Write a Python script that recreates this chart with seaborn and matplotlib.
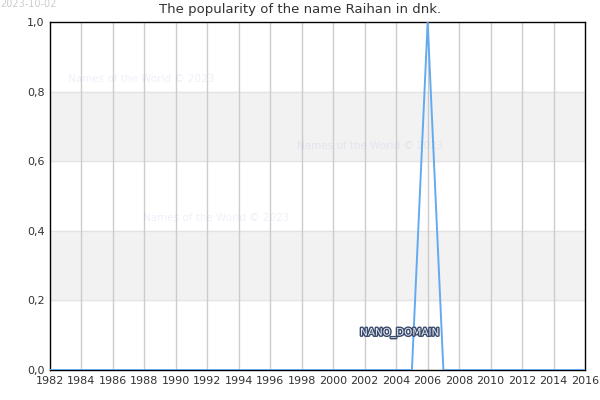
import matplotlib
matplotlib.use('Agg')  # Headless
import matplotlib.pyplot as plt
import matplotlib.patheffects as pe
from matplotlib.ticker import FuncFormatter
import seaborn as sns

sns.set_theme(style="white")
plt.rcParams['font.family'] = ['DejaVu Sans']

years = list(range(1982, 2017))
popularity = [1.0 if y == 2006 else 0.0 for y in years]
x_ticks = list(range(1982, 2017, 2))
y_ticks = [0.0, 0.2, 0.4, 0.6, 0.8, 1.0]
bands = [(0.2, 0.4), (0.6, 0.8)]

fig = plt.figure(figsize=(6, 4), dpi=100)
ax = fig.add_axes([50 / 600, 30 / 400, 535 / 600, 348 / 400])

for lo, hi in bands:
    ax.axhspan(lo, hi, color='#f2f2f2', zorder=0)
for yv in y_ticks[1:-1]:
    ax.axhline(yv, color='#e4e4e4', lw=1, zorder=0.5)
for xv in x_ticks[1:-1]:
    ax.axvline(xv, color='#cccccc', lw=1, zorder=0.5)

sns.lineplot(x=years, y=popularity, color='#64aaf0', lw=1.4, ax=ax, zorder=3)

ax.set_xlim(1982, 2016)
ax.set_ylim(0, 1.0)
ax.set_xticks(x_ticks)
ax.set_yticks(y_ticks)
ax.yaxis.set_major_formatter(FuncFormatter(lambda v, _: f'{v:.1f}'.replace('.', ',')))
ax.tick_params(labelsize=8, colors='#333333', length=0, pad=4)
for s in ax.spines.values():
    s.set_color('black')
    s.set_linewidth(1)

fig.text(0.5, 1 - 10 / 400, 'The popularity of the name Raihan in dnk.', ha='center', va='center',
         fontsize=9.5, color='#333333')
fig.text(0, 1 - 4 / 400, '2023-10-02', ha='left', va='center', fontsize=7, color='#cccccc')

for px, py in [(68, 79), (297, 146), (143, 218)]:
    fig.text(px / 600, 1 - py / 400, 'Names of the World © 2023', ha='left', va='center',
             fontsize=7.5, color='#6666cc', alpha=0.1)

fig.text(360 / 600, 1 - 333 / 400, 'NANO_DOMAIN', ha='left', va='center', fontsize=7.5,
         color='#e8ecf4',
         path_effects=[pe.withStroke(linewidth=2, foreground='#3a4a6a')])

plt.savefig('out.png', dpi=100)
plt.close()
